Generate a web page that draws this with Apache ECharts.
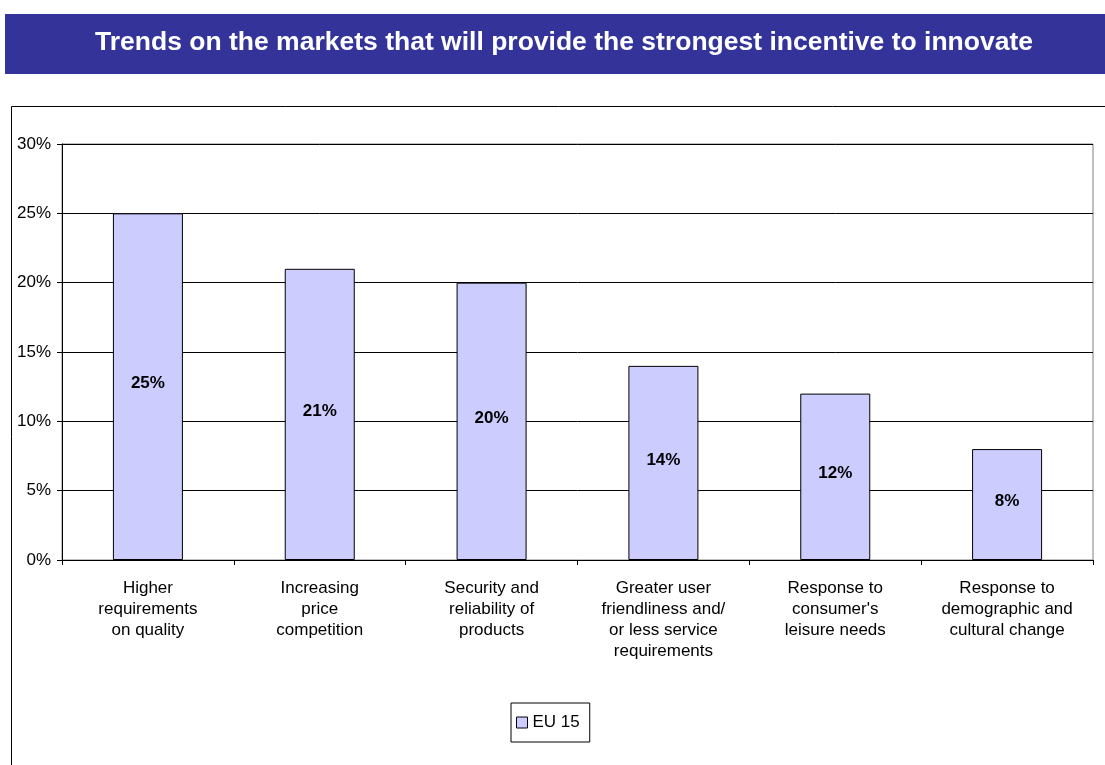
<!DOCTYPE html>
<html>
<head>
<meta charset="utf-8">
<script src="https://cdn.jsdelivr.net/npm/echarts@6/dist/echarts.min.js"></script>
<style>
  html, body { margin: 0; padding: 0; background: #fff; }
  #chart { width: 1105px; height: 765px; }
</style>
</head>
<body>
<div id="chart"></div>
<script>
// Survey: market trends giving the strongest incentive to innovate (EU 15)
const titleText = 'Trends on the markets that will provide the strongest incentive to innovate';
const categories = [
  'Higher\nrequirements\non quality',
  'Increasing\nprice\ncompetition',
  'Security and\nreliability of\nproducts',
  'Greater user\nfriendliness and/\nor less service\nrequirements',
  "Response to\nconsumer's\nleisure needs",
  'Response to\ndemographic and\ncultural change'
];
const seriesName = 'EU 15';
const eu15Values = [25, 21, 20, 14, 12, 8];
const yTicks = { min: 0, max: 30, interval: 5 };

const font = 'Liberation Sans, Arial, Helvetica, sans-serif';
const chart = echarts.init(document.getElementById('chart'), null, { renderer: 'canvas' });

chart.setOption({
  animation: false,
  backgroundColor: '#ffffff',
  textStyle: { fontFamily: font },
  graphic: [
    { type: 'rect', shape: { x: 5, y: 14, width: 1105, height: 60 }, style: { fill: '#333399' }, silent: true },
    { type: 'text', x: 564, y: 43, style: { text: titleText, fill: '#ffffff', font: 'bold 26.5px ' + font, textAlign: 'center', textVerticalAlign: 'middle' }, silent: true },
    { type: 'polyline', shape: { points: [[11.5, 770], [11.5, 106.5], [1110, 106.5]] }, style: { stroke: '#000000', lineWidth: 1, fill: null }, silent: true }
  ],
  grid: {
    left: 62, right: 12, top: 144, bottom: 205,
    show: true, borderColor: '#808080', borderWidth: 1, backgroundColor: 'transparent'
  },
  legend: {
    data: [seriesName],
    left: 511, top: 703,
    orient: 'horizontal',
    icon: 'rect',
    itemWidth: 11, itemHeight: 11,
    padding: [11, 10, 11, 5],
    borderColor: '#000000', borderWidth: 1,
    textStyle: { fontSize: 17, color: '#000000', fontFamily: font },
    itemStyle: { borderColor: '#000000', borderWidth: 1 }
  },
  xAxis: {
    type: 'category',
    data: categories,
    axisLine: { lineStyle: { color: '#000000', width: 1 } },
    axisTick: { show: true, length: 5, inside: false, lineStyle: { color: '#000000' } },
    axisLabel: { interval: 0, margin: 18, fontSize: 17, lineHeight: 21, color: '#000000', fontFamily: font, align: 'center' },
    splitLine: { show: false }
  },
  yAxis: {
    type: 'value',
    min: yTicks.min, max: yTicks.max, interval: yTicks.interval,
    axisLine: { show: true, lineStyle: { color: '#000000', width: 1 } },
    axisTick: { show: true, length: 5, lineStyle: { color: '#000000' } },
    axisLabel: { formatter: '{value}%', fontSize: 17, color: '#000000', margin: 11, fontFamily: font },
    splitLine: { show: true, lineStyle: { color: '#000000', width: 1 } }
  },
  series: [{
    name: seriesName,
    type: 'bar',
    data: eu15Values,
    barWidth: 70,
    itemStyle: { color: '#CCCCFF', borderColor: '#000000', borderWidth: 1 },
    label: {
      show: true, position: 'inside', formatter: '{c}%', offset: [0, -3],
      fontSize: 17, fontWeight: 'bold', color: '#000000', fontFamily: font
    }
  }]
});
</script>
</body>
</html>
